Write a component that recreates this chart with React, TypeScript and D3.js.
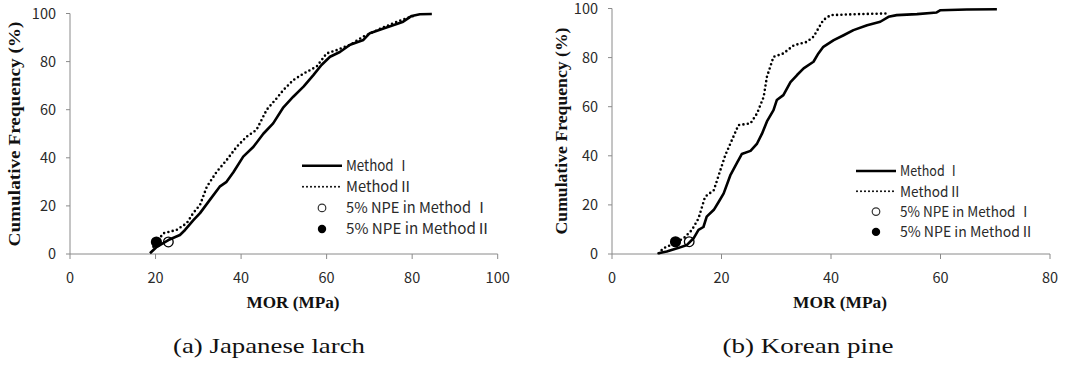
import React from "react";
import * as d3 from "d3";

const yTicks = [0, 20, 40, 60, 80, 100];
const larchTicks = [0, 20, 40, 60, 80, 100];
const pineTicks = [0, 20, 40, 60, 80];

// Japanese larch
const larchMor1 = [18.7, 20.3, 23, 25.7, 26.9, 28.8, 30.4, 32.7, 35, 36.6, 38.2, 40.5, 42.9, 45.2, 47.5, 49.9, 52.2, 54.6, 56.9, 58.8, 60.8, 63.1, 65.5, 68.6, 70.1, 73.3, 76.4, 77.9, 79.9, 81.8, 84.6];
const larchCum1 = [0.3, 3, 5.8, 7.9, 10, 14, 17, 22.5, 28, 30, 34, 40.5, 44.6, 50, 54.3, 61, 65.4, 69.6, 74.4, 78.6, 82, 84, 87, 89, 91.8, 93.8, 95.6, 96.6, 99, 99.7, 99.8];
const larchMor2 = [19.5, 21.8, 24.9, 27.3, 28.8, 30.4, 32, 34.3, 36.6, 39, 41.3, 43.6, 46, 48.3, 49.9, 52.2, 54.6, 57.7, 60, 62.4, 65.5, 68.6, 71.7, 75.6, 78.7, 81];
const larchCum2 = [3, 8.6, 10, 12.8, 17, 20.4, 28, 34.2, 39, 44.6, 48.8, 51.6, 60, 64.7, 68.2, 72.3, 75, 78, 83.4, 84.8, 87, 90.4, 93, 96, 98, 99.4];
const larchNpe = [23, 20.2]; // Method I, Method II (at 5%)

// Korean pine
const pineMor1 = [8.5, 10, 11.9, 13.7, 14.9, 15.8, 16.7, 17.3, 18.6, 19.5, 20.4, 21.6, 22.8, 23.7, 25.3, 26.5, 27.4, 28.3, 29.5, 30.1, 31.3, 32.6, 33.8, 35, 36.8, 37.7, 38.6, 40.5, 42.3, 44.1, 46.6, 49, 50.5, 52, 55.7, 59.3, 60, 64.8, 70.3];
const pineCum1 = [0.3, 1, 2.3, 3.7, 6.4, 9.8, 11, 15.2, 18, 21.3, 24.7, 32, 37, 40.7, 42, 45, 49, 54, 58.6, 62.7, 64.7, 70, 72.9, 75.6, 78.3, 81.7, 84.4, 87.1, 89.1, 91.2, 93.2, 94.6, 96.6, 97.3, 97.7, 98.4, 99.3, 99.6, 99.7];
const pineMor2 = [8.5, 9.4, 11.3, 13.1, 14.6, 15.8, 17, 18.6, 19.8, 20.7, 21.9, 23.1, 25.3, 26.5, 27.7, 28.3, 29.5, 31.3, 33.2, 35.6, 36.8, 38.6, 39.9, 44.7, 50.5];
const pineCum2 = [0.3, 2.3, 4.3, 6.4, 9.8, 14.5, 23.3, 26, 34.2, 40.3, 46.4, 52.5, 53.2, 57.3, 64, 72.2, 80.3, 81.7, 85, 86.4, 88.5, 95.3, 97.3, 97.7, 98];
const pineNpe = [14.1, 11.6];
const npeLevel = 5;

const legendLabels = ["Method Ⅰ", "MethodⅡ", "5% NPE in Method Ⅰ", "5% NPE in MethodⅡ"];

const sans = "'Noto Sans CJK KR', 'Noto Sans', sans-serif";
const serif = "'Liberation Serif', 'Times New Roman', serif";
const axisGrey = "#8a8a8a";
const textCol = "#2a2a2a";

type PanelProps = {
  x0: number; x1: number; y0: number; y1: number;
  xMax: number; xTicks: number[];
  mor1: number[]; cum1: number[]; mor2: number[]; cum2: number[];
  npe: number[];
  legX: number; legY: number; legGap: number; legFont: number; legLens: number[];
  yTitleX: number; yTitleY: number; yTitleLen: number;
  xTitleX: number; xTitleLen: number;
  caption: string; capX: number; capLen: number;
};

function Panel(p: PanelProps) {
  const x = d3.scaleLinear().domain([0, p.xMax]).range([p.x0, p.x1]);
  const y = d3.scaleLinear().domain([0, 100]).range([p.y0, p.y1]);
  const path = (xs: number[], ys: number[]) =>
    d3.line<number>().x((d) => x(d)).y((_, i) => y(ys[i]))(xs) || "";
  const lx0 = p.legX, lx1 = p.legX + 40, tx = p.legX + 44;
  return (
    <g>
      {/* axes */}
      <line x1={p.x0} x2={p.x0} y1={y(100)} y2={p.y0} stroke={axisGrey} strokeWidth={1} />
      <line x1={p.x0} x2={p.x1} y1={p.y0} y2={p.y0} stroke={axisGrey} strokeWidth={1} />
      {yTicks.map((t) => (
        <g key={"y" + t}>
          <line x1={p.x0 - 4} x2={p.x0} y1={y(t)} y2={y(t)} stroke={axisGrey} />
          <text x={p.x0 - 14} y={y(t)} dy="0.36em" textAnchor="end" fontFamily={sans} fontSize={14.5} fill={textCol}>{t}</text>
        </g>
      ))}
      {p.xTicks.map((t) => (
        <g key={"x" + t}>
          <line x1={x(t)} x2={x(t)} y1={p.y0} y2={p.y0 + 5} stroke={axisGrey} />
          <text x={x(t)} y={283} textAnchor="middle" fontFamily={sans} fontSize={14.5} fill={textCol}>{t}</text>
        </g>
      ))}
      {/* curves */}
      <path d={path(p.mor1, p.cum1)} fill="none" stroke="#000" strokeWidth={2.6} strokeLinejoin="round" />
      <path d={path(p.mor2, p.cum2)} fill="none" stroke="#000" strokeWidth={2.6} strokeDasharray="0 4.4" strokeLinecap="round" />
      <circle cx={x(p.npe[1])} cy={y(npeLevel)} r={5.6} fill="#000" />
      <circle cx={x(p.npe[0])} cy={y(npeLevel)} r={4.8} fill="none" stroke="#000" strokeWidth={1.3} />
      {/* legend */}
      <line x1={lx0} x2={lx1} y1={p.legY} y2={p.legY} stroke="#000" strokeWidth={2.6} />
      <line x1={lx0 + 1} x2={lx1} y1={p.legY + p.legGap} y2={p.legY + p.legGap} stroke="#000" strokeWidth={2} strokeDasharray="0 4" strokeLinecap="round" />
      <circle cx={lx0 + 20} cy={p.legY + 2 * p.legGap} r={3.8} fill="#fff" stroke="#333" strokeWidth={1.2} />
      <circle cx={lx0 + 20} cy={p.legY + 3 * p.legGap} r={4.2} fill="#000" />
      {legendLabels.map((l, i) => (
        <text key={l} x={tx} y={p.legY + i * p.legGap} dy="0.36em" fontFamily={sans} fontSize={p.legFont} fill={textCol}
          textLength={p.legLens[i]} lengthAdjust="spacingAndGlyphs">{l}</text>
      ))}
      {/* titles */}
      <text transform={`translate(${p.yTitleX},${p.yTitleY}) rotate(-90)`} textAnchor="middle" fontFamily={serif} fontWeight="bold"
        fontSize={17} fill="#111" textLength={p.yTitleLen} lengthAdjust="spacingAndGlyphs">Cumulative Frequency (%)</text>
      <text x={p.xTitleX} y={308} textAnchor="middle" fontFamily={serif} fontWeight="bold" fontSize={16} fill="#111"
        textLength={p.xTitleLen} lengthAdjust="spacingAndGlyphs">MOR (MPa)</text>
      <text x={p.capX} y={353} textAnchor="middle" fontFamily={serif} fontSize={21} fill="#111"
        textLength={p.capLen} lengthAdjust="spacingAndGlyphs">{p.caption}</text>
    </g>
  );
}

export default function App() {
  return (
    <svg width={1077} height={367} style={{ position: "absolute", left: 0, top: 0, background: "#fff" }}>
      <rect width={1077} height={367} fill="#fff" />
      <Panel x0={70} x1={497.7} y0={254} y1={13.5} xMax={100} xTicks={larchTicks}
        mor1={larchMor1} cum1={larchCum1} mor2={larchMor2} cum2={larchCum2} npe={larchNpe}
        legX={302} legY={165.7} legGap={21.1} legFont={15} legLens={[64, 67, 143, 145]}
        yTitleX={20} yTitleY={134} yTitleLen={225} xTitleX={293} xTitleLen={93}
        caption="(a)  Japanese  larch" capX={269} capLen={192} />
      <Panel x0={612} x1={1050} y0={254} y1={8.5} xMax={80} xTicks={pineTicks}
        mor1={pineMor1} cum1={pineCum1} mor2={pineMor2} cum2={pineCum2} npe={pineNpe}
        legX={856} legY={171} legGap={20.3} legFont={14.5} legLens={[60, 62, 132, 134]}
        yTitleX={567} yTitleY={131} yTitleLen={207} xTitleX={840} xTitleLen={94}
        caption="(b)  Korean  pine" capX={808} capLen={171} />
    </svg>
  );
}
